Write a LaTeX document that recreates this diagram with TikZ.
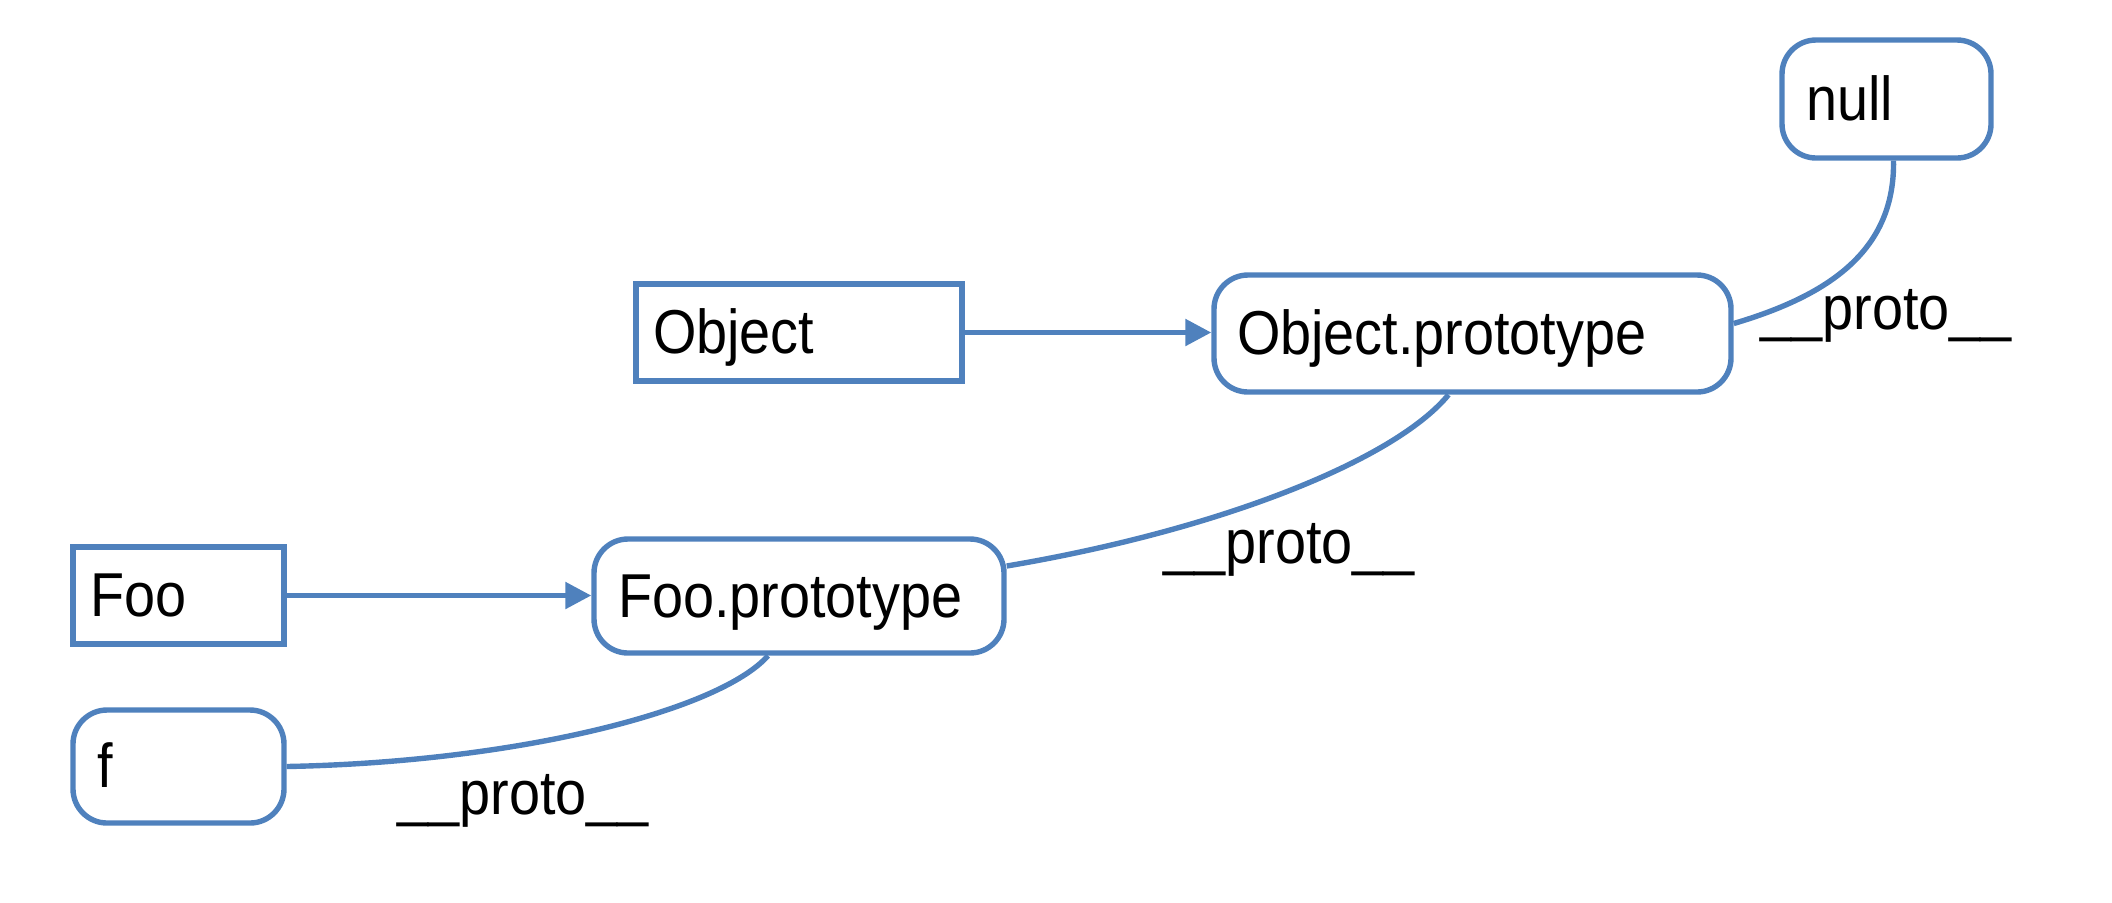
\documentclass[tikz,border=0pt]{standalone}
\usepackage{fontspec}
\setmainfont{Liberation Sans}[FakeStretch=0.9]
\usetikzlibrary{arrows.meta}
\definecolor{lc}{RGB}{79,129,189}
\newcommand{\mystrut}{\rule[-8pt]{0pt}{37pt}}
\begin{document}
\begin{tikzpicture}[x=0.5pt,y=-0.5pt,
  base/.style={draw=lc, line width=2.7pt, fill=white, font=\fontsize{31}{36}\selectfont,
    inner ysep=0pt, align=left},
  sq/.style={base, rectangle},
  rnd/.style={base, rectangle, rounded corners=17pt},
  lbl/.style={font=\fontsize{31}{36}\selectfont, inner sep=0pt},
  conn/.style={draw=lc, line width=2.7pt},
  arr/.style={conn, -{Triangle[length=13pt,width=13pt]}}
]
\useasboundingbox (0,0) rectangle (2112,902);

\node[sq, inner xsep=8.5pt, text width=146pt, minimum height=48.5pt] (obj) at (799,332.5) {\mystrut Object};
\node[rnd, inner xsep=11.5pt, text width=235.5pt, minimum height=58.5pt] (objp) at (1472.5,333.5) {\mystrut Object.prototype};
\node[rnd, inner xsep=12pt, text width=80.5pt, minimum height=59pt] (null) at (1886.5,99) {\mystrut null};
\node[sq, inner xsep=8.5pt, text width=88.5pt, minimum height=48.5pt] (foo) at (178.5,595.5) {\mystrut Foo};
\node[rnd, inner xsep=12pt, text width=181pt, minimum height=57pt] (foop) at (799,596) {\mystrut Foo.prototype};
\node[rnd, inner xsep=12pt, text width=81.5pt, minimum height=56.5pt] (f) at (178.5,766.5) {\mystrut f};

\draw[arr] (obj.east) -- (obj.east -| objp.west);
\draw[arr] (foo.east) -- (foo.east -| foop.west);

\draw[conn] ([yshift=5pt]objp.east) .. controls (1830,295) and (1895,250) .. ([xshift=3.5pt]null.south);
\draw[conn] ([xshift=-12pt]objp.south) .. controls (1395,460) and (1220,530) .. ([yshift=15pt]foop.east);
\draw[conn] ([xshift=-15.5pt]foop.south) .. controls (720,710) and (520,762) .. (f.east);

\node[lbl] (l1) at (1886,316) {\_\_proto\_\_};
\node[lbl] (l2) at (1289,550) {\_\_proto\_\_};
\node[lbl] (l3) at (523,801) {\_\_proto\_\_};
\end{tikzpicture}
\end{document}
